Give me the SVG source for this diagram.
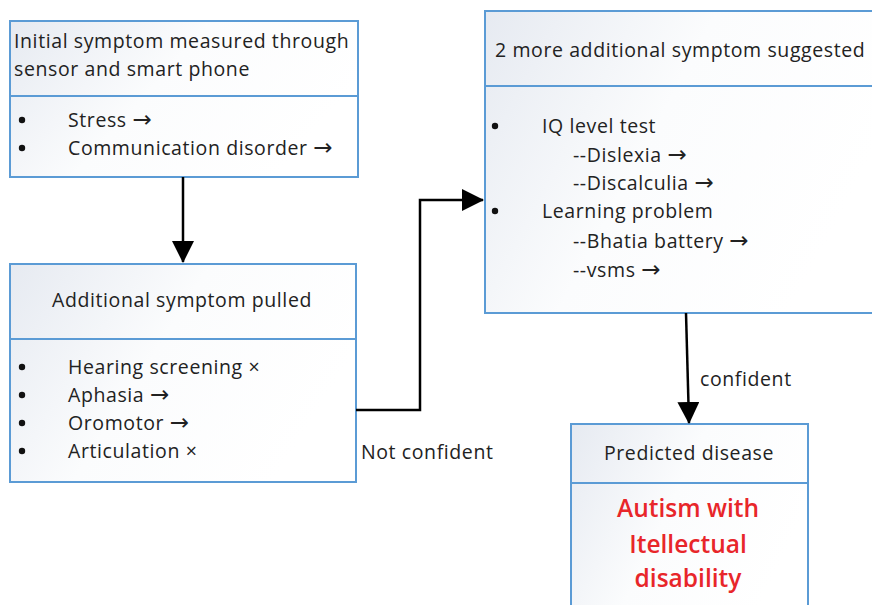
<svg xmlns="http://www.w3.org/2000/svg" width="872" height="605" viewBox="0 0 872 605">
  <style>
    .box { fill: url(#panel); stroke: #5b9bd5; stroke-width: 2; }
    .div { stroke: #5b9bd5; stroke-width: 2; }
    .t { font-family: "Open Sans", "Noto Sans", "DejaVu Sans", sans-serif; font-size: 19.5px; letter-spacing: 0.6px; fill: #222; }
    .c { text-anchor: middle; }
    .ar { font-family: "DejaVu Sans", sans-serif; font-size: 23px; letter-spacing: 0; }
    .dot { fill: #111; }
    .red { font-family: "Open Sans", "Noto Sans", "DejaVu Sans", sans-serif; font-size: 24.5px; fill: #e8262a; text-anchor: middle; font-weight: 600; }
    .wire { fill: none; stroke: #000; stroke-width: 2.5; }
  </style>
  <defs>
    <linearGradient id="panel" x1="0" y1="0" x2="1" y2="0.4">
      <stop offset="0" stop-color="#e6eaf1"/>
      <stop offset="0.5" stop-color="#fbfcfd"/>
      <stop offset="1" stop-color="#ffffff"/>
    </linearGradient>
    <marker id="head" markerUnits="userSpaceOnUse" markerWidth="22" markerHeight="22" viewBox="0 0 22 22" refX="21" refY="11" orient="auto">
      <path d="M0,0 L22,11 L0,22 Z" fill="#000"/>
    </marker>
  </defs>
  <rect width="872" height="605" fill="#ffffff"/>

  <g id="initial-symptom">
    <rect class="box" x="10" y="21" width="348" height="156"/>
    <line class="div" x1="10" y1="96" x2="358" y2="96"/>
    <text class="t" x="14" y="48">Initial symptom measured through</text>
    <text class="t" x="14" y="76">sensor and smart phone</text>
    <circle class="dot" cx="22" cy="120" r="3.2"/>
    <text class="t" x="68" y="127">Stress <tspan class="ar">→</tspan></text>
    <circle class="dot" cx="22" cy="148" r="3.2"/>
    <text class="t" x="68" y="155">Communication disorder <tspan class="ar">→</tspan></text>
  </g>

  <g id="additional-symptom">
    <rect class="box" x="10" y="264" width="346" height="218"/>
    <line class="div" x1="10" y1="339" x2="356" y2="339"/>
    <text class="t c" x="182" y="307">Additional symptom pulled</text>
    <circle class="dot" cx="22" cy="367" r="3.2"/>
    <text class="t" x="68" y="374">Hearing screening ×</text>
    <circle class="dot" cx="22" cy="395" r="3.2"/>
    <text class="t" x="68" y="402">Aphasia <tspan class="ar">→</tspan></text>
    <circle class="dot" cx="22" cy="423" r="3.2"/>
    <text class="t" x="68" y="430">Oromotor <tspan class="ar">→</tspan></text>
    <circle class="dot" cx="22" cy="451" r="3.2"/>
    <text class="t" x="68" y="458">Articulation ×</text>
  </g>

  <g id="more-symptoms">
    <rect class="box" x="485" y="11" width="400" height="302"/>
    <line class="div" x1="485" y1="86" x2="872" y2="86"/>
    <text class="t" x="495" y="57">2 more additional symptom suggested</text>
    <circle class="dot" cx="495" cy="126" r="3.2"/>
    <text class="t" x="542" y="133">IQ level test</text>
    <text class="t" x="573" y="162">--Dislexia  <tspan class="ar">→</tspan></text>
    <text class="t" x="573" y="190">--Discalculia  <tspan class="ar">→</tspan></text>
    <circle class="dot" cx="495" cy="211" r="3.2"/>
    <text class="t" x="542" y="218">Learning problem</text>
    <text class="t" x="573" y="248">--Bhatia battery  <tspan class="ar">→</tspan></text>
    <text class="t" x="573" y="277">--vsms  <tspan class="ar">→</tspan></text>
  </g>

  <g id="predicted-disease">
    <rect class="box" x="571" y="424" width="237" height="200"/>
    <line class="div" x1="571" y1="483" x2="808" y2="483"/>
    <text class="t c" x="689" y="460">Predicted disease</text>
    <text class="red" x="688" y="517">Autism with</text>
    <text class="red" x="688" y="553">Itellectual</text>
    <text class="red" x="688" y="587">disability</text>
  </g>

  <g id="connectors">
    <line class="wire" x1="183" y1="177" x2="183" y2="262" marker-end="url(#head)"/>
    <polyline class="wire" points="356,410 420,410 420,200 483,200" marker-end="url(#head)"/>
    <line class="wire" x1="686" y1="313" x2="689" y2="423" marker-end="url(#head)"/>
    <text class="t" x="361" y="459">Not confident</text>
    <text class="t" x="700" y="386">confident</text>
  </g>
</svg>
